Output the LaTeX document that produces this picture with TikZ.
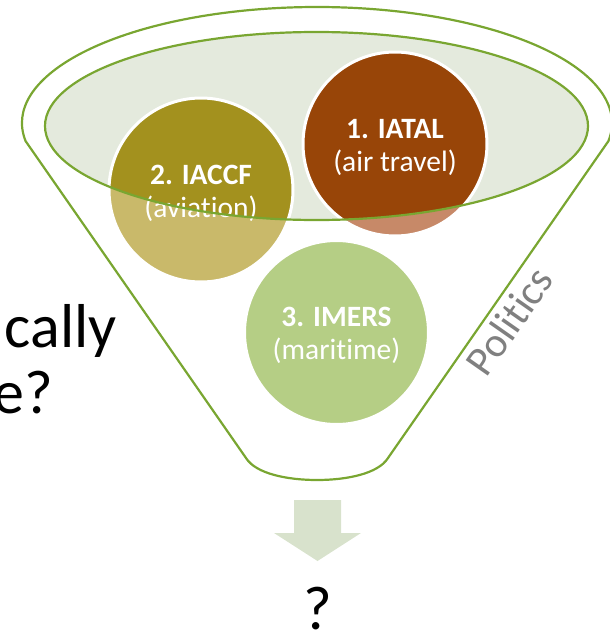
\documentclass[tikz,border=0pt]{standalone}
\usepackage{fontspec}
\setmainfont{Carlito}[Ligatures=NoCommon]
\definecolor{fline}{RGB}{121,166,49}
\definecolor{ellfill}{RGB}{228,234,221}
\definecolor{brownS}{RGB}{152,69,8}
\definecolor{brownL}{RGB}{199,137,104}
\definecolor{oliveS}{RGB}{163,145,30}
\definecolor{oliveL}{RGB}{201,185,106}
\definecolor{greenL}{RGB}{181,206,133}
\definecolor{arrowc}{RGB}{216,226,204}
\definecolor{polgrey}{RGB}{128,128,128}
\tikzset{
  funnelline/.style={draw=fline,line width=2.2pt},
  disc/.style={draw=white,line width=3pt},
  lbl/.style={text=white,align=center,inner sep=0pt,font=\fontsize{29.5}{33}\selectfont},
  bigtxt/.style={text=black,inner sep=0pt,font=\fontsize{62}{66}\selectfont},
}
\begin{document}
\begin{tikzpicture}[x=1pt,y=-1pt]
\useasboundingbox (0,0) rectangle (610,632);
\clip (0,0) rectangle (610,632);
% funnel outline
\draw[funnelline,line join=round] (317,123) ++(171:295 and 116)
  arc[start angle=171,end angle=369,x radius=295,y radius=116]
  -- (388,458) .. controls (378,474) and (346,480) .. (317,480)
  .. controls (288,480) and (256,474) .. (246,458) -- cycle;
% circles, light (outside the opening)
\filldraw[disc,fill=brownL] (395,144) circle[radius=92];
\filldraw[disc,fill=oliveL] (201,190) circle[radius=92];
\filldraw[disc,fill=greenL] (336.5,332.5) circle[radius=92];
% inside the opening
\begin{scope}
  \clip (316.5,126) ellipse[x radius=271.5,y radius=94];
  \fill[ellfill] (316.5,126) ellipse[x radius=271.5,y radius=94];
  \filldraw[disc,fill=brownS] (395,144) circle[radius=92];
  \filldraw[disc,fill=oliveS] (201,190) circle[radius=92];
\end{scope}
% labels
\node[lbl] (n1) at (395,147) {\textbf{1. IATAL}\\(air travel)};
\node[lbl] (n2) at (201,193) {\textbf{2. IACCF}\\(aviation)};
\node[lbl] (n3) at (336.5,335) {\textbf{3. IMERS}\\(maritime)};
% opening outline
\draw[funnelline] (316.5,126) ellipse[x radius=271.5,y radius=94];
% politics
\node[text=polgrey,rotate=55,inner sep=0pt,font=\fontsize{42}{46}\selectfont] (pol) at (509,321) {Politics};
% arrow
\fill[arrowc] (294,500) -- (341,500) -- (341,533) -- (361,533) -- (317.5,561) -- (274,533) -- (294,533) -- cycle;
\node[bigtxt,anchor=base] (q) at (317.5,629) {?};
% cut-off text at left
\node[bigtxt,anchor=base east] (t1) at (117,347) {cally};
\node[bigtxt,anchor=base east] (t2) at (53,413) {e?};
\end{tikzpicture}
\end{document}
